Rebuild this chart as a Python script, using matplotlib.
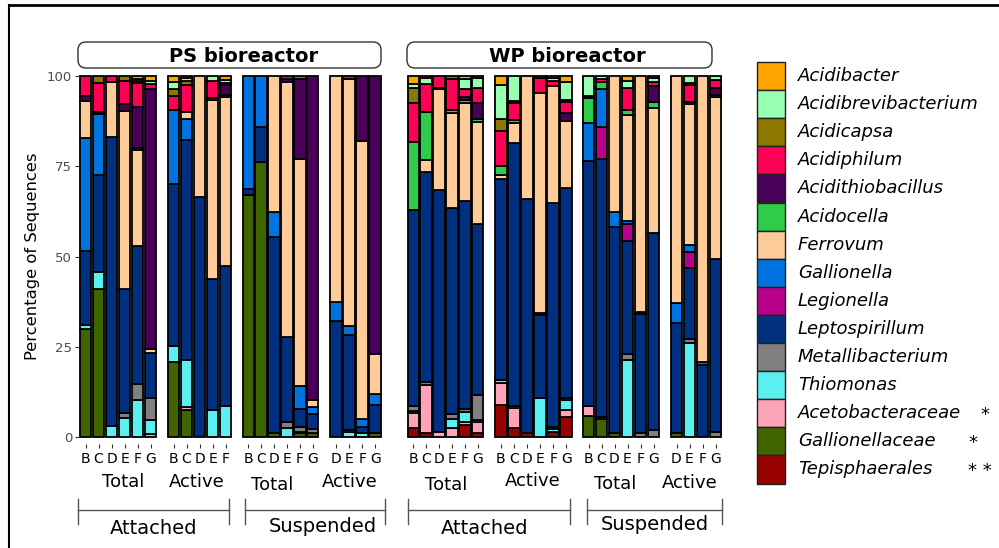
import numpy as np
import matplotlib
matplotlib.use('Agg')
import matplotlib.pyplot as plt
from matplotlib.patches import Rectangle, FancyBboxPatch

W, H = 999, 548

# stacking order, bottom -> top
TAXA = ['Tepisphaerales', 'Gallionellaceae', 'Acetobacteraceae', 'Thiomonas',
        'Metallibacterium', 'Leptospirillum', 'Legionella', 'Gallionella',
        'Ferrovum', 'Acidocella', 'Acidithiobacillus', 'Acidiphilum',
        'Acidicapsa', 'Acidibrevibacterium', 'Acidibacter']
COLORS = ['#990000', '#3f6400', '#ffa3b8', '#5cefef',
          '#808080', '#00307f', '#b8008a', '#0073e0',
          '#ffcc99', '#2ecc48', '#4a0058', '#ff0055',
          '#8c7700', '#99ffb0', '#ffa500']
MARKS = {'Acetobacteraceae': '*', 'Gallionellaceae': '*', 'Tepisphaerales': '* *'}

# one row per bar, columns follow TAXA
# Tep  Gcae  Acet  Thio  Meta  Lept  Legi  Gall  Ferr  Acdc  Athb  Aphi  Acap  Abrv  Abac
PS_ATT_TOTAL = [
    [0, 30.0, 0, 1.0, 0, 20.5, 0, 31.4, 10.2, 0, 1.4, 5.5, 0, 0, 0],      # B
    [0, 41.0, 0, 4.6, 0, 27.0, 0, 17.0, 0, 0, 0.5, 8.0, 1.9, 0, 0],       # C
    [0, 0, 0, 3.0, 0, 80.0, 0, 0, 15.4, 0, 0, 1.6, 0, 0, 0],              # D
    [0, 0, 0, 5.2, 1.4, 34.3, 0, 0, 49.5, 0, 1.8, 6.5, 1.3, 0, 0],        # E
    [0, 0, 0, 10.2, 4.4, 38.3, 0, 0, 26.5, 0.6, 11.3, 6.7, 0.7, 0.6, 0.7],  # F
    [0, 0, 0.8, 3.9, 6.0, 12.6, 0, 0, 1.2, 0, 72.0, 1.4, 0, 0.7, 1.4],    # G
]
PS_ATT_ACTIVE = [
    [0, 20.9, 0, 4.3, 0, 44.9, 0, 20.5, 0, 0, 0, 3.9, 1.8, 2.1, 1.6],     # B
    [0, 7.5, 0.9, 12.9, 0, 60.9, 0, 5.8, 2.1, 0, 0, 7.4, 1.0, 1.0, 0.5],  # C
    [0, 0, 0, 0, 0, 66.5, 0, 0, 33.5, 0, 0, 0, 0, 0, 0],                  # D
    [0, 0, 0, 7.5, 0, 36.3, 0, 0, 49.6, 0.5, 0, 4.6, 0, 1.5, 0],          # E
    [0, 0, 0, 8.6, 0, 38.8, 0, 0, 46.8, 0.5, 2.8, 0.5, 0, 1.0, 1.0],      # F
]
PS_SUSP_TOTAL = [
    [0, 67.0, 0, 0, 0, 1.8, 0, 31.2, 0, 0, 0, 0, 0, 0, 0],                # B
    [0, 76.3, 0, 0, 0, 9.7, 0, 14.0, 0, 0, 0, 0, 0, 0, 0],                # C
    [0, 1.2, 0, 0, 0, 54.1, 0, 7.1, 37.6, 0, 0, 0, 0, 0, 0],              # D
    [0, 0, 0, 2.4, 1.8, 23.4, 0, 0, 70.6, 0, 0.9, 0.9, 0, 0, 0],          # E
    [0, 1.0, 0, 0.5, 1.2, 5.0, 0, 6.5, 62.8, 0, 22.3, 0, 0.7, 0, 0],      # F
    [0, 1.0, 0, 0, 1.2, 4.2, 0, 1.8, 2.0, 0, 89.8, 0, 0, 0, 0],           # G
]
PS_SUSP_ACTIVE = [
    [0, 0, 0, 0, 0, 32.0, 0, 5.3, 62.7, 0, 0, 0, 0, 0, 0],                # D
    [0, 0, 0, 1.5, 0.4, 26.3, 0, 2.5, 68.6, 0, 0, 0.7, 0, 0, 0],          # E
    [0, 0, 0, 1.0, 0, 1.8, 0, 2.3, 76.9, 0, 18.0, 0, 0, 0, 0],            # F
    [0, 1.0, 0, 0, 0, 7.8, 0, 3.2, 11.0, 0, 77.0, 0, 0, 0, 0],            # G
]
WP_ATT_TOTAL = [
    [2.4, 0, 4.2, 0.5, 1.6, 54.2, 0, 0, 0, 18.9, 0, 10.6, 4.2, 1.2, 2.2], # B
    [1.2, 0, 13.2, 0, 0.8, 58.3, 0, 0, 3.2, 13.4, 0, 7.7, 0, 1.6, 0.6],   # C
    [0, 0, 1.5, 0, 0, 67.0, 0, 0, 27.8, 0.5, 0, 3.2, 0, 0, 0],            # D
    [0, 0, 2.4, 2.5, 1.6, 57.0, 0, 0, 26.3, 0.7, 0, 8.8, 0.7, 0, 0],      # E
    [3.3, 0, 0.9, 2.8, 0.7, 57.6, 0, 0, 27.3, 0.7, 0.9, 2.1, 0, 2.8, 0.9],  # F
    [1.2, 0, 3.0, 0.6, 6.9, 47.4, 0, 0, 28.2, 0.9, 4.2, 4.2, 0, 2.8, 0.6],  # G
]
WP_ATT_ACTIVE = [
    [8.9, 0, 6.0, 0.9, 0, 55.7, 0, 0, 1.1, 2.6, 0, 9.5, 3.4, 9.4, 2.5],   # B
    [2.4, 0, 5.5, 0.7, 0, 72.8, 0, 0, 5.5, 0.9, 0, 4.6, 0.7, 6.9, 0],     # C
    [1.0, 0, 0, 0, 0, 64.9, 0, 0, 34.1, 0, 0, 0, 0, 0, 0],                # D
    [0, 0, 0, 10.7, 0, 23.1, 0.5, 0, 61.0, 0, 0, 4.2, 0.5, 0, 0],         # E
    [1.5, 0, 0, 0.7, 0.5, 62.0, 0, 0, 32.5, 0, 0, 1.5, 0, 0.7, 0.6],      # F
    [5.6, 0, 1.8, 2.8, 0.5, 58.2, 0, 0, 18.5, 0, 2.3, 3.0, 0.6, 5.1, 1.6],  # G
]
WP_SUSP_TOTAL = [
    [0, 5.8, 2.8, 0, 0, 67.9, 0, 10.6, 0, 6.7, 0, 0.7, 0, 5.5, 0],        # B
    [0, 4.9, 0.6, 0, 0, 71.5, 8.9, 10.5, 0, 1.8, 0, 0.9, 0, 0.9, 0],      # C
    [0, 1.0, 0, 0, 0, 57.2, 0, 4.1, 37.7, 0, 0, 0, 0, 0, 0],              # D
    [0, 0, 0, 21.3, 1.8, 31.1, 4.9, 0.6, 29.5, 1.4, 0, 6.2, 0, 1.8, 1.4], # E
    [0, 0, 0, 0, 1.2, 32.9, 0, 0.6, 65.3, 0, 0, 0, 0, 0, 0],              # F
    [0, 0, 0, 0, 1.9, 54.6, 0, 0, 34.6, 1.8, 4.2, 1.1, 0, 1.2, 0.6],      # G
]
WP_SUSP_ACTIVE = [
    [0, 1.0, 0, 0, 0, 30.5, 0, 5.7, 62.8, 0, 0, 0, 0, 0, 0],              # D
    [0, 0, 0, 26.0, 1.1, 19.6, 4.6, 1.8, 39.1, 0.5, 0, 4.8, 0.5, 2.0, 0], # E
    [0, 0, 0, 0, 0, 19.9, 0, 0.9, 79.2, 0, 0, 0, 0, 0, 0],                # F
    [0, 0, 0, 0, 1.5, 47.7, 0, 0, 44.9, 0.6, 2.1, 2.0, 0, 1.2, 0],        # G
]

# panel -> (bars, tick labels, left px, right px)
PANELS = [
    (PS_ATT_TOTAL, list('BCDEFG'), 79, 157),
    (PS_ATT_ACTIVE, list('BCDEF'), 167, 232),
    (PS_SUSP_TOTAL, list('BCDEFG'), 242, 319),
    (PS_SUSP_ACTIVE, list('DEFG'), 329, 382),
    (WP_ATT_TOTAL, list('BCDEFG'), 407, 484),
    (WP_ATT_ACTIVE, list('BCDEFG'), 494, 573),
    (WP_SUSP_TOTAL, list('BCDEFG'), 582, 660),
    (WP_SUSP_ACTIVE, list('DEFG'), 670, 722),
]

Y_LO, Y_HI = -2, 102
PX_BOT, PX_TOP = 437 - 3.61 * Y_LO, 437 - 3.61 * Y_HI

fig = plt.figure(figsize=(W / 100, H / 100), dpi=100)

for i, (bars, labels, left, right) in enumerate(PANELS):
    ax = fig.add_axes([left / W, 1 - PX_BOT / H, (right - left) / W, (PX_BOT - PX_TOP) / H])
    vals = np.array(bars, dtype=float)
    x = np.arange(len(labels))
    bottom = np.zeros(len(labels))
    for j, taxon in enumerate(TAXA):
        h = vals[:, j]
        m = h > 0
        ax.bar(x[m], h[m], bottom=bottom[m], width=0.9, color=COLORS[j],
               edgecolor='black', linewidth=1.3)
        bottom += h
    ax.set_xlim(-0.5, len(labels) - 0.5)
    ax.set_ylim(Y_LO, Y_HI)
    for s in ax.spines.values():
        s.set_visible(False)
    ax.set_xticks(x)
    ax.set_xticklabels(labels, fontsize=10)
    ax.tick_params(axis='x', length=3, width=0.8, color='#333333', pad=2.5)
    if i == 0:
        ax.set_yticks([0, 25, 50, 75, 100])
        ax.tick_params(axis='y', length=3, width=0.8, color='#333333',
                       labelcolor='#4d4d4d', labelsize=9.5, pad=2)
        ax.set_ylabel('Percentage of Sequences', fontsize=11.8, labelpad=5)
    else:
        ax.set_yticks([])

# overlay in pixel coordinates for strips, group labels and legend
ov = fig.add_axes([0, 0, 1, 1])
ov.set_xlim(0, W)
ov.set_ylim(H, 0)
ov.axis('off')

# outer frame
ov.plot([9, W], [5, 5], color='black', lw=2)
ov.plot([9, 9], [5, H], color='black', lw=1.5)

# bioreactor strips
for x0, x1, tx, name in [(78, 381, 244, 'PS bioreactor'), (407, 712, 567, 'WP bioreactor')]:
    ov.add_patch(FancyBboxPatch((x0, 42), x1 - x0, 26, boxstyle='round,pad=0,rounding_size=8',
                                facecolor='white', edgecolor='#333333', lw=1))
    ov.text(tx, 56, name, ha='center', va='center', fontsize=14, fontweight='bold')

# Total / Active
for tx, ty, s in [(123, 482, 'Total'), (197, 482, 'Active'), (272, 485, 'Total'),
                  (350, 482, 'Active'), (446, 485, 'Total'), (533, 481, 'Active'),
                  (615, 484, 'Total'), (690, 483, 'Active')]:
    ov.text(tx, ty, s, ha='center', va='center', fontsize=13)

# Attached / Suspended brackets
for x0, x1, tx, ty, s in [(78, 229, 154, 528, 'Attached'), (245, 385, 323, 526, 'Suspended'),
                          (408, 570, 485, 529, 'Attached'), (587, 722, 655, 525, 'Suspended')]:
    ov.plot([x0, x1], [510, 510], color='#555555', lw=1)
    ov.plot([x0, x0], [499, 524], color='#555555', lw=1)
    ov.plot([x1, x1], [499, 524], color='#555555', lw=1)
    ov.text(tx, ty, s, ha='center', va='center', fontsize=14)

# legend, top -> bottom is reverse of stacking order
for k, (taxon, col) in enumerate(zip(TAXA[::-1], COLORS[::-1])):
    y0 = 62 + 28.1 * k
    ov.add_patch(Rectangle((757, y0), 28, 28.1, facecolor=col, edgecolor='#222222', lw=1))
    ov.text(798, y0 + 14, taxon, ha='left', va='center', fontsize=13, style='italic')
    if taxon in MARKS:
        mx = 980 if taxon == 'Acetobacteraceae' else 968
        ov.text(mx, y0 + 16, MARKS[taxon], ha='left', va='center', fontsize=13)

fig.savefig('out.png', dpi=100)
